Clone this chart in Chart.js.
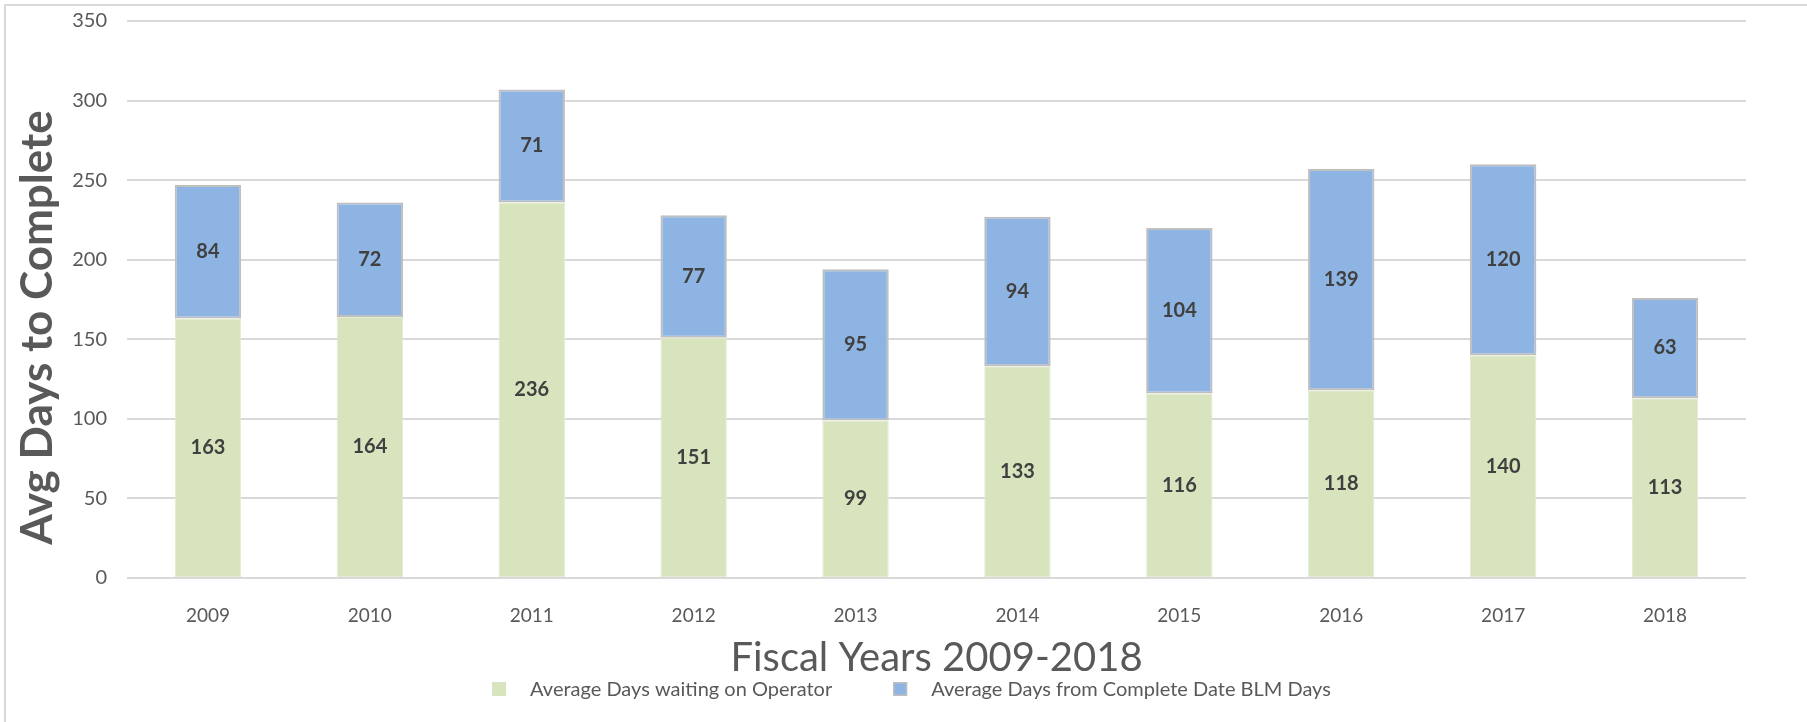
<!DOCTYPE html>
<html>
<head>
<meta charset="utf-8">
<title>Avg Days to Complete</title>
<script src="https://cdn.jsdelivr.net/npm/chart.js@4.4.1/dist/chart.umd.min.js"></script>
<style>
  html, body { margin: 0; padding: 0; background: #ffffff; }
  #wrap { width: 1807px; height: 722px; }
</style>
</head>
<body>
<div id="wrap"><canvas id="barChart" width="1807" height="722"></canvas></div>
<script>
// Datos
const fiscalYears = ['2009', '2010', '2011', '2012', '2013', '2014', '2015', '2016', '2017', '2018'];
const daysWaitingOperator = [163, 164, 236, 151, 99, 133, 116, 118, 140, 113];
const daysBlm = [84, 72, 71, 77, 95, 94, 104, 139, 120, 63];
const seriesLabels = ['Average Days waiting on Operator', 'Average Days from Complete Date BLM Days'];
const yAxisTitle = 'Avg Days to Complete';
const xAxisTitle = 'Fiscal Years 2009-2018';
const yMin = 0;
const yMax = 350;
const yStep = 50;

const textGray = '#595959';
const gridGray = '#d9d9d9';

// Marco gris claro arriba y a la izquierda
const frameLines = {
    id: 'frameLines',
    beforeDraw(chart) {
        const ctx = chart.ctx;
        ctx.save();
        ctx.strokeStyle = gridGray;
        ctx.lineWidth = 2;
        ctx.beginPath();
        ctx.moveTo(5, chart.height);
        ctx.lineTo(5, 5);
        ctx.lineTo(chart.width, 5);
        ctx.stroke();
        ctx.restore();
    }
};

// Título del eje Y (un poco por debajo del centro, como en el original)
const yTitle = {
    id: 'yTitle',
    afterDraw(chart) {
        const ctx = chart.ctx;
        const area = chart.chartArea;
        ctx.save();
        ctx.translate(38, (area.top + area.bottom) / 2 + 28);
        ctx.rotate(-Math.PI / 2);
        ctx.font = 'bold 44px Lato';
        ctx.fillStyle = textGray;
        ctx.textAlign = 'center';
        ctx.textBaseline = 'middle';
        ctx.fillText(yAxisTitle, 0, 0);
        ctx.restore();
    }
};

// Valores en el centro de cada segmento
const barValueLabels = {
    id: 'barValueLabels',
    afterDatasetsDraw(chart) {
        const ctx = chart.ctx;
        ctx.save();
        ctx.font = 'bold 20px Lato';
        ctx.fillStyle = '#404040';
        ctx.textAlign = 'center';
        ctx.textBaseline = 'middle';
        chart.data.datasets.forEach((ds, i) => {
            chart.getDatasetMeta(i).data.forEach((bar, j) => {
                const { x, y, base } = bar.getProps(['x', 'y', 'base'], true);
                ctx.fillText(String(ds.data[j]), x, (y + base) / 2);
            });
        });
        ctx.restore();
    }
};

// Leyenda inferior con el espaciado del original
const bottomLegend = {
    id: 'bottomLegend',
    afterDraw(chart) {
        const ctx = chart.ctx;
        const box = 14, gap = 24, spacing = 61, y = 689;
        ctx.save();
        ctx.font = '20px Lato';
        ctx.textBaseline = 'middle';
        ctx.textAlign = 'left';
        const items = chart.data.datasets.map(ds => ({
            text: ds.label,
            fill: ds.backgroundColor,
            stroke: ds.legendBorder,
            w: ctx.measureText(ds.label).width
        }));
        const total = items.reduce((s, it) => s + box + gap + it.w, 0) + spacing * (items.length - 1);
        let x = chart.width / 2 + 8 - total / 2;
        items.forEach(it => {
            ctx.fillStyle = it.fill;
            ctx.fillRect(x, y - box / 2, box, box);
            if (it.stroke) {
                ctx.strokeStyle = it.stroke;
                ctx.lineWidth = 1.5;
                ctx.strokeRect(x + 0.75, y - box / 2 + 0.75, box - 1.5, box - 1.5);
            }
            ctx.fillStyle = textGray;
            ctx.fillText(it.text, x + box + gap, y + 1);
            x += box + gap + it.w + spacing;
        });
        ctx.restore();
    }
};

const ctx = document.getElementById('barChart').getContext('2d');
new Chart(ctx, {
    type: 'bar',
    data: {
        labels: fiscalYears,
        datasets: [{
            label: seriesLabels[0],
            data: daysWaitingOperator,
            backgroundColor: '#d7e4bd',
            borderColor: '#e3ecd2',
            borderWidth: 1,
            borderSkipped: false,
            legendBorder: null
        }, {
            label: seriesLabels[1],
            data: daysBlm,
            backgroundColor: '#8eb4e3',
            borderColor: '#bfbfbf',
            borderWidth: 2,
            borderSkipped: false,
            legendBorder: '#bfbfbf'
        }]
    },
    options: {
        responsive: false,
        animation: false,
        devicePixelRatio: 1,
        layout: {
            padding: { top: 21, left: 0, right: 61, bottom: 40 }
        },
        datasets: {
            bar: { categoryPercentage: 1, barPercentage: 0.41 }
        },
        scales: {
            x: {
                stacked: true,
                grid: { display: false },
                border: { display: false },
                ticks: {
                    color: textGray,
                    font: { family: 'Lato', size: 19 },
                    padding: 18,
                    maxRotation: 0
                },
                title: {
                    display: true,
                    text: xAxisTitle,
                    color: textGray,
                    font: { family: 'Lato', size: 40 },
                    padding: { top: 0, bottom: 0 }
                },
                afterFit: scale => { scale.height = 104; }
            },
            y: {
                stacked: true,
                min: yMin,
                max: yMax,
                grid: { color: gridGray, lineWidth: 2, drawTicks: false },
                border: { display: false },
                ticks: {
                    stepSize: yStep,
                    color: textGray,
                    font: { family: 'Lato', size: 20 },
                    padding: 20
                },
                afterFit: scale => {
                    scale.width = 127;
                    // el padding de los ticks no debe empujar el área hacia abajo
                    scale.paddingTop = 0;
                    scale.paddingBottom = 0;
                }
            }
        },
        plugins: {
            legend: { display: false },
            tooltip: { enabled: false }
        }
    },
    plugins: [frameLines, yTitle, barValueLabels, bottomLegend]
});
</script>
</body>
</html>
